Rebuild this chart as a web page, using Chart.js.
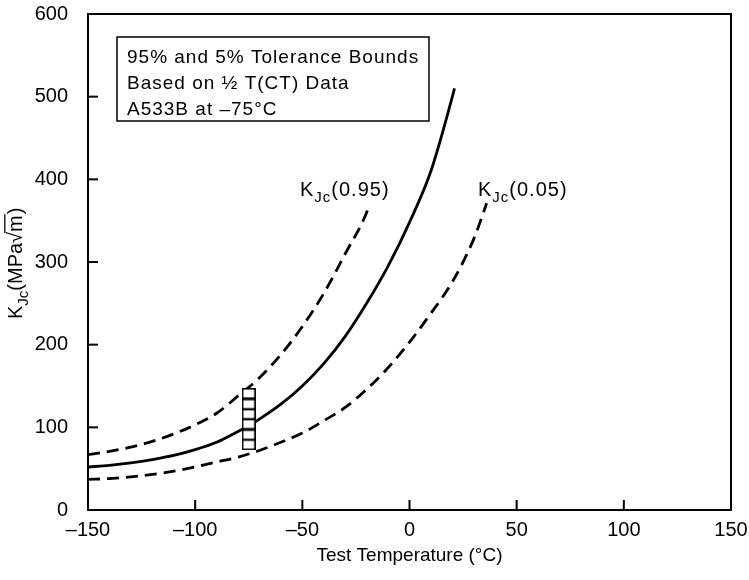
<!DOCTYPE html>
<html>
<head>
<meta charset="utf-8">
<script src="https://cdn.jsdelivr.net/npm/chart.js@4"></script>
<style>
  html, body { margin: 0; padding: 0; background: #fff; }
</style>
</head>
<body>
<canvas id="chart" width="749" height="580"></canvas>
<script>
// Data
const medianT = [-150, -140, -130, -120, -110, -100, -90, -80, -75, -70, -60, -50, -40, -30, -20, -10, 0, 10, 20, 21];
const medianK = [52, 54, 57, 61, 66, 73, 82, 95, 102, 110, 128, 150, 177, 210, 250, 295, 348, 410, 500, 510];

const upperT = [-150, -140, -130, -120, -110, -100, -90, -80, -70, -60, -50, -40, -30, -20, -19];
const upperK = [67, 71, 76, 83, 92, 103, 117, 138, 160, 188, 222, 262, 310, 360, 368];

const lowerT = [-150, -140, -130, -120, -110, -100, -90, -80, -70, -60, -50, -40, -30, -20, -10, 0, 10, 20, 30, 36];
const lowerK = [37, 38, 40, 43, 47, 52, 58, 64, 72, 82, 93, 108, 124, 146, 172, 203, 238, 276, 328, 371];

const testTemp = -75;
const testK = [79, 91, 104, 116, 128, 141];

const xTicks = [-150, -100, -50, 0, 50, 100, 150];
const yTicks = [0, 100, 200, 300, 400, 500, 600];

const boxLines = ['95% and 5% Tolerance Bounds', 'Based on \u00bd T(CT) Data', 'A533B at \u201375\u00b0C'];

const FONT = '"Liberation Sans", Arial, Helvetica, sans-serif';

function pairs(xs, ys) {
    return xs.map((x, i) => ({ x: x, y: ys[i] }));
}

// open box marker for the test data
const marker = document.createElement('canvas');
marker.width = 14;
marker.height = 11;
(function () {
    const m = marker.getContext('2d');
    m.fillStyle = '#fff';
    m.fillRect(0, 0, 14, 11);
    m.strokeStyle = '#000';
    m.lineWidth = 1.6;
    m.strokeRect(0.8, 0.8, 12.4, 9.4);
})();

// K_Jc with subscript; returns x after the subscript
function drawK(ctx, x, y, size) {
    ctx.font = size + 'px ' + FONT;
    ctx.fillText('K', x, y);
    x += ctx.measureText('K').width;
    ctx.font = Math.round(size * 0.75) + 'px ' + FONT;
    ctx.fillText('Jc', x, y + size * 0.3);
    x += ctx.measureText('Jc').width;
    ctx.font = size + 'px ' + FONT;
    return x;
}

const decorations = {
    id: 'decorations',
    afterDraw(chart) {
        const ctx = chart.ctx;
        const a = chart.chartArea;
        const xs = chart.scales.x, ys = chart.scales.y;
        ctx.save();
        ctx.strokeStyle = '#000';
        ctx.fillStyle = '#000';

        // frame
        ctx.lineWidth = 2;
        ctx.strokeRect(a.left, a.top, a.right - a.left, a.bottom - a.top);

        // inward ticks
        xTicks.forEach(v => {
            const px = xs.getPixelForValue(v);
            ctx.beginPath();
            ctx.moveTo(px, a.bottom);
            ctx.lineTo(px, a.bottom - 10);
            ctx.stroke();
        });
        yTicks.forEach(v => {
            const py = ys.getPixelForValue(v);
            ctx.beginPath();
            ctx.moveTo(a.left, py);
            ctx.lineTo(a.left + 10, py);
            ctx.stroke();
        });

        // info box
        ctx.lineWidth = 1.5;
        ctx.strokeRect(117, 37, 312, 84);
        ctx.font = '19px ' + FONT;
        ctx.letterSpacing = '1px';
        ctx.textBaseline = 'alphabetic';
        ctx.textAlign = 'left';
        boxLines.forEach((t, i) => ctx.fillText(t, 127, 63 + i * 26));

        // curve labels
        ctx.letterSpacing = '1px';
        let x = drawK(ctx, 300, 196, 20);
        ctx.fillText('(0.95)', x, 196);
        x = drawK(ctx, 478, 196, 20);
        ctx.fillText('(0.05)', x, 196);
        ctx.letterSpacing = '0px';

        // y axis title, rotated
        ctx.translate(22, 262);
        ctx.rotate(-Math.PI / 2);
        const sz = 20;
        let lx = -57;
        lx = drawK(ctx, lx, 0, sz);
        ctx.fillText('(MPa', lx, 0);
        lx += ctx.measureText('(MPa').width;
        ctx.fillText('\u221a', lx, 0);
        const rootEnd = lx + ctx.measureText('\u221a').width;
        lx = rootEnd;
        ctx.fillText('m', lx, 0);
        const mW = ctx.measureText('m').width;
        ctx.lineWidth = 1.3;
        ctx.beginPath();
        ctx.moveTo(rootEnd - 1, -sz * 0.86);
        ctx.lineTo(lx + mW + 1, -sz * 0.86);
        ctx.stroke();
        lx += mW + 1;
        ctx.fillText(')', lx, 0);

        ctx.restore();
    }
};

const lineStyle = {
    borderColor: '#000',
    borderWidth: 2.8,
    pointRadius: 0,
    fill: false,
    cubicInterpolationMode: 'monotone'
};

new Chart(document.getElementById('chart'), {
    type: 'line',
    data: {
        datasets: [
            {
                type: 'scatter',
                label: '1/2T(CT) data',
                data: testK.map(k => ({ x: testTemp, y: k })),
                pointStyle: marker,
                pointRadius: 6,
                showLine: false
            },
            Object.assign({ label: 'Median', data: pairs(medianT, medianK) }, lineStyle),
            Object.assign({ label: 'KJc(0.95)', data: pairs(upperT, upperK), borderDash: [12, 7] }, lineStyle),
            Object.assign({ label: 'KJc(0.05)', data: pairs(lowerT, lowerK), borderDash: [12, 7] }, lineStyle)
        ]
    },
    options: {
        responsive: false,
        devicePixelRatio: 1,
        animation: false,
        layout: { padding: { top: 14, right: 18, bottom: 0, left: 0 } },
        plugins: {
            legend: { display: false },
            tooltip: { enabled: false }
        },
        scales: {
            x: {
                type: 'linear',
                min: -150,
                max: 150,
                afterBuildTicks: s => { s.ticks = xTicks.map(v => ({ value: v })); },
                afterFit: s => { s.height = 70; s.paddingLeft = 0; s.paddingRight = 0; },
                grid: { display: false, drawTicks: false },
                border: { display: false },
                ticks: {
                    color: '#000',
                    font: { family: FONT, size: 20 },
                    padding: 8,
                    maxRotation: 0,
                    callback: v => String(v).replace('-', '\u2013')
                },
                title: {
                    display: true,
                    text: 'Test Temperature (\u00b0C)',
                    color: '#000',
                    font: { family: FONT, size: 19 },
                    padding: { top: 0, bottom: 13 }
                }
            },
            y: {
                type: 'linear',
                min: 0,
                max: 600,
                afterBuildTicks: s => { s.ticks = yTicks.map(v => ({ value: v })); },
                afterFit: s => { s.width = 88; s.paddingTop = 0; s.paddingBottom = 0; },
                grid: { display: false, drawTicks: false },
                border: { display: false },
                ticks: {
                    color: '#000',
                    font: { family: FONT, size: 20 },
                    padding: 20
                }
            }
        }
    },
    plugins: [decorations]
});
</script>
</body>
</html>
